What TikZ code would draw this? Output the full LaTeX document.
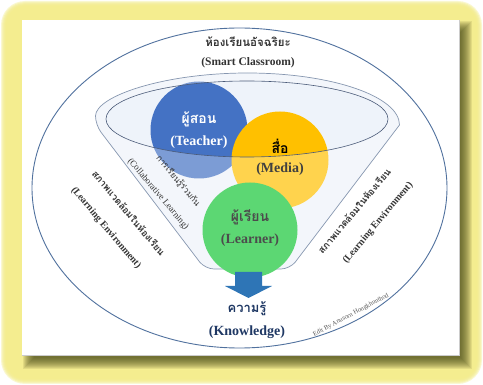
\documentclass[tikz,border=0pt]{standalone}
\usepackage{fontspec}
\setmainfont{Liberation Serif}
\newfontfamily\thai[Script=Thai]{Loma}
\definecolor{glowc}{RGB}{244,237,138}
\definecolor{shadowc}{RGB}{70,70,20}
\definecolor{teachc}{RGB}{68,114,196}
\definecolor{mediac}{RGB}{255,192,0}
\definecolor{learnc}{RGB}{92,215,115}
\definecolor{funnelc}{RGB}{238,243,250}
\definecolor{outlinec}{RGB}{80,113,158}
\definecolor{funlinec}{RGB}{135,151,176}
\definecolor{innerc}{RGB}{74,90,120}
\definecolor{arrowc}{RGB}{46,117,182}
\definecolor{txtc}{RGB}{51,51,51}
\definecolor{navyc}{RGB}{31,56,100}
\begin{document}
\begin{tikzpicture}[x=1pt,y=-1pt,
  circ/.style={circle,minimum size=#1,inner sep=0pt},
  eng/.style={font=\bfseries\fontsize{#1}{#1}\selectfont,text=txtc,inner sep=0pt},
  th/.style={font=\thai\bfseries\fontsize{#1}{#1}\selectfont,text=txtc,inner sep=0pt},
  thr/.style={font=\thai\fontsize{#1}{#1}\selectfont,text=txtc,inner sep=0pt},
  engr/.style={font=\fontsize{#1}{#1}\selectfont,text=txtc,inner sep=0pt}]
\useasboundingbox (0,0) rectangle (483,385);
\fill[white] (0,0) rectangle (483,385);
% glow
\foreach \k in {0,...,5}{
  \fill[glowc,opacity=0.38,rounded corners=24pt-\k pt] (1+\k,1+\k) rectangle (482-\k,384-\k);
}
% shadow
\foreach \k in {0,...,11}{
  \fill[shadowc,opacity=0.1] (34-\k,32-\k) rectangle (461+\k,358+\k);
}
% panel
\fill[white] (22,20) rectangle (459,355);
\draw[black!20,line width=0.4pt] (22,355) -- (459,355) -- (459,20);
% big ellipse
\draw[outlinec,line width=0.9pt] (239.5,188) ellipse [x radius=207.5pt, y radius=160pt];
% funnel
\fill[funnelc] (95.5,125) arc[start angle=180,end angle=0,x radius=152pt,y radius=52pt]
   [rounded corners=9pt] -- (290,269) -- (205,269) -- cycle;
% circles
\node[circ=97pt,fill=teachc] (teacher) at (199,130) {};
\node[circ=97pt,fill=mediac] (media) at (280,160) {};
% translucent funnel body
\fill[white,opacity=0.3,even odd rule] (95.5,125) arc[start angle=180,end angle=0,x radius=152pt,y radius=52pt]
   [rounded corners=9pt] -- (290,269) -- (205,269) -- cycle
   [sharp corners] (247,119) ellipse [x radius=141pt, y radius=38pt];
\draw[innerc,line width=0.6pt] (247,119) ellipse [x radius=141pt, y radius=38pt];
\draw[funlinec,line width=0.7pt] (95.5,125) arc[start angle=180,end angle=0,x radius=152pt,y radius=52pt]
   [rounded corners=9pt] -- (290,269) -- (205,269) -- cycle;
\node[circ=95pt,fill=learnc] (learner) at (250,230) {};
% arrow
\fill[arrowc] (235,272) -- (262,272) -- (262,286) -- (272,286) -- (248.5,298) -- (225,286) -- (235,286) -- cycle;
% texts
\node[th=14pt,text=white] (teachth) at (199,119) {ผู้สอน};
\node[eng=14pt,text=white] (teachen) at (199,142) {(Teacher)};
\node[th=14pt,text=black] (mediath) at (280,146) {สื่อ};
\node[eng=14pt,text=black!75] (mediaen) at (280,169) {(Media)};
\node[th=14pt,text=black!70] (learnth) at (250,217) {ผู้เรียน};
\node[eng=14pt,text=black!70] (learnen) at (250,240) {(Learner)};
\node[th=13pt,text=navyc] (knowth) at (247,309) {ความรู้};
\node[eng=14pt,text=navyc] (knowen) at (247,332) {(Knowledge)};
\node[th=11.5pt] (titleth) at (248,42) {ห้องเรียนอัจฉริยะ};
\node[eng=11.5pt] (titleen) at (248,63) {(Smart Classroom)};
\node[thr=8.5pt,rotate=-50] (collabth) at (178,181) {การเรียนรู้ร่วมกัน};
\node[engr=9pt,rotate=-50] (collaben) at (158,194) {(Collaborative Learning)};
\node[th=9.5pt,rotate=-50] (leftth) at (129,213) {สภาพแวดล้อมในห้องเรียน};
\node[eng=9.8pt,rotate=-50] (leften) at (106,228) {(Learning Environment)};
\node[th=9.5pt,rotate=50] (rightth) at (354,211) {สภาพแวดล้อมในห้องเรียน};
\node[eng=9.8pt,rotate=50] (righten) at (378,223) {(Learning Environment)};
\node[engr=6.5pt,rotate=28,text=black!65] (edit) at (351,315) {Edit By Anusorn Hongkhunthod};
\end{tikzpicture}
\end{document}
